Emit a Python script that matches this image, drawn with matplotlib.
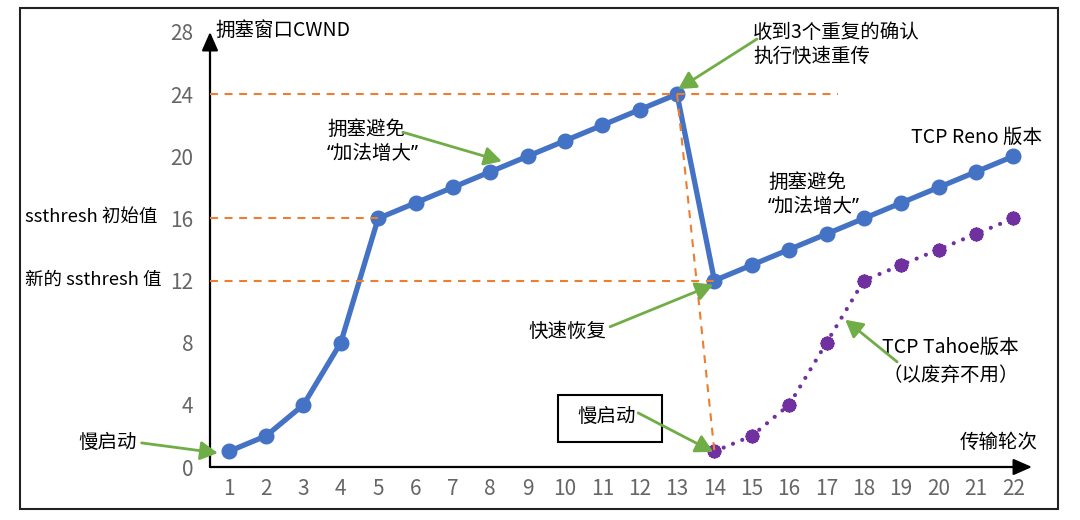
import matplotlib
matplotlib.use("Agg")
import matplotlib.pyplot as plt
from matplotlib.patches import Rectangle

plt.rcParams['font.family'] = ['Noto Sans CJK SC', 'DejaVu Sans']

# ---- data ----
rounds = list(range(1, 23))
reno_cwnd = [1, 2, 4, 8, 16, 17, 18, 19, 20, 21, 22, 23, 24,
             12, 13, 14, 15, 16, 17, 18, 19, 20]
tahoe_rounds = list(range(14, 23))
tahoe_cwnd = [1, 2, 4, 8, 12, 13, 14, 15, 16]
yticks = [0, 4, 8, 12, 16, 20, 24, 28]
thresh_peak = 24        # cwnd when 3 dup ACKs arrive
thresh_init = 16        # initial ssthresh
thresh_new = 12         # new ssthresh

BLUE = '#4472C4'
PURPLE = '#7030A0'
ORANGE = '#ED7D31'
GREEN = '#70AD47'
GRAY = '#666666'

fig = plt.figure(figsize=(10.8, 5.2), dpi=100)
ax = fig.add_axes([210/1080, 53/520, 822/1080, 435/520])
ax.set_xlim(0.5, 22.5)
ax.set_ylim(0, 28)
for s in ax.spines.values():
    s.set_visible(False)
ax.set_xticks(rounds)
ax.set_yticks(yticks)
ax.tick_params(length=0, labelsize=15, labelcolor=GRAY)
ax.tick_params(axis='y', pad=12)
ax.tick_params(axis='x', pad=8)
for lab in ax.get_xticklabels() + ax.get_yticklabels():
    lab.set_fontweight('light')

# axes with arrow heads
arrow_axis = dict(arrowstyle='-|>,head_length=0.75,head_width=0.33', color='black',
                  lw=1.6, shrinkA=0, shrinkB=0, mutation_scale=15)
ax.annotate('', xy=(1, 0), xytext=(0, 0), xycoords='axes fraction',
            textcoords='axes fraction', arrowprops=arrow_axis, annotation_clip=False)
ax.annotate('', xy=(0, 1), xytext=(0, 0), xycoords='axes fraction',
            textcoords='axes fraction', arrowprops=arrow_axis, annotation_clip=False)

# orange dashed reference lines
dash = dict(color=ORANGE, lw=1.5, linestyle=(0, (3.8, 3.2)), zorder=3, clip_on=False)
ax.plot([0.5, 17.3], [thresh_peak, thresh_peak], **dash)
ax.plot([0.5, 5], [thresh_init, thresh_init], **dash)
ax.plot([0.5, 14], [thresh_new, thresh_new], **dash)
ax.plot([13, 14], [reno_cwnd[12], tahoe_cwnd[0]], **dash)

# Reno line
ax.plot(rounds, reno_cwnd, color=BLUE, lw=3.8, marker='o', markersize=10.5,
        zorder=2, clip_on=False, solid_capstyle='round')

# Tahoe dotted line
ax.plot(tahoe_rounds, tahoe_cwnd, color=PURPLE, lw=3.0, linestyle=(0, (0.01, 2.4)),
        dash_capstyle='round', zorder=2, clip_on=False)
ax.plot(tahoe_rounds, tahoe_cwnd, linestyle='none', marker=(16, 1, 0), markersize=10,
        color=PURPLE, zorder=2, clip_on=False)
ax.plot(tahoe_rounds, tahoe_cwnd, linestyle='none', marker='o', markersize=9,
        color=PURPLE, zorder=2, clip_on=False)

# texts
FS = 14
quote_family = ['Noto Sans', 'Noto Sans CJK SC']
ax.text(0.65, 28.13, '拥塞窗口CWND', fontsize=FS, ha='left', va='center')
ax.text(-4.44, 16.13, 'ssthresh 初始值', fontsize=13.3, ha='left', va='center', clip_on=False)
ax.text(-4.44, 12.06, '新的 ssthresh 值', fontsize=13.3, ha='left', va='center', clip_on=False)
ax.text(-2.24, 1.55, '慢启动', fontsize=FS, ha='center', va='center', clip_on=False)
ax.text(3.63, 21.74, '拥塞避免', fontsize=FS, ha='left', va='center')
ax.text(3.63, 20.13, '“加法增大”', fontsize=FS, ha='left', va='center', family=quote_family)
ax.text(15.04, 28.0, '收到3个重复的确认', fontsize=FS, ha='left', va='center')
ax.text(15.04, 26.45, '执行快速重传', fontsize=FS, ha='left', va='center')
ax.text(10.08, 8.71, '快速恢复', fontsize=FS, ha='center', va='center')
ax.text(11.12, 3.23, '慢启动', fontsize=FS, ha='center', va='center')
ax.add_patch(Rectangle((9.81, 1.61), 2.79, 3.04, fill=False, ec='black', lw=1.5, zorder=4))
ax.text(20.31, 7.68, 'TCP Tahoe版本', fontsize=FS, ha='center', va='center')
ax.text(20.33, 5.87, '（以废弃不用）', fontsize=FS, ha='center', va='center')
ax.text(21.01, 21.23, 'TCP Reno 版本', fontsize=FS, ha='center', va='center')
ax.text(15.44, 18.32, '拥塞避免', fontsize=FS, ha='left', va='center')
ax.text(15.44, 16.71, '“加法增大”', fontsize=FS, ha='left', va='center', family=quote_family)
ax.text(21.6, 1.61, '传输轮次', fontsize=FS, ha='center', va='center')

# green arrows (tail -> tip)
garrow = dict(arrowstyle='-|>,head_length=0.7,head_width=0.38', color=GREEN, lw=2.0,
              shrinkA=0, shrinkB=0, mutation_scale=15)
arrows = [((-1.33, 1.55), (0.71, 0.90)),
          ((5.66, 21.55), (8.31, 19.68)),
          ((15.14, 27.55), (13.03, 24.32)),
          ((11.21, 9.03), (13.97, 11.74)),
          ((11.96, 3.48), (13.97, 0.97)),
          ((18.89, 6.77), (17.50, 9.48))]
for tail, tip in arrows:
    ax.annotate('', xy=tip, xytext=tail, arrowprops=garrow, annotation_clip=False, zorder=5)

# outer frame
fig.add_artist(Rectangle((20/1080, 11/520), 1038/1080, 501/520, transform=fig.transFigure,
                         fill=False, ec='#222222', lw=1.5))

fig.savefig('out.png', dpi=100)
